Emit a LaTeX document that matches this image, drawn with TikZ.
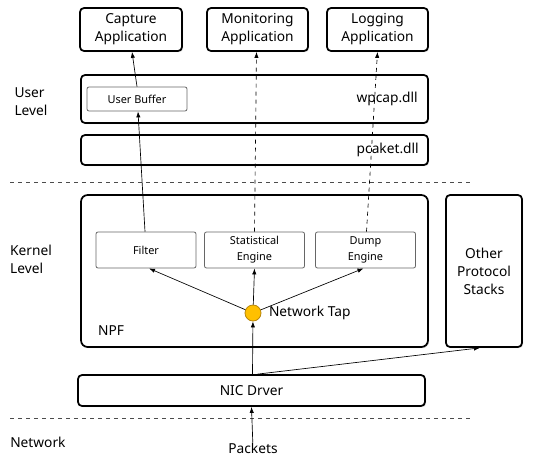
\documentclass[tikz,border=0pt]{standalone}
\usepackage{fontspec}
\setmainfont{Noto Sans}
\usetikzlibrary{positioning, calc, arrows.meta, shadows}

\definecolor{tapfill}{HTML}{FFC000}
\definecolor{tapline}{HTML}{B8860B}

\begin{document}
\begin{tikzpicture}[x=0.75pt, y=-0.75pt,
    bigbox/.style={draw, line width=1.3pt, rounded corners=3pt, fill=white,
        drop shadow={shadow xshift=0.9pt, shadow yshift=-0.9pt, opacity=0.25},
        font=\fontsize{10.3}{13.5}\selectfont, align=center, inner sep=0pt},
    smallbox/.style={draw=black!60, line width=0.6pt, rounded corners=1.5pt, fill=white,
        font=\fontsize{8.2}{12}\selectfont, align=center, inner sep=0pt,
        minimum width=75pt, minimum height=27pt},
    label/.style={font=\fontsize{10.3}{13.5}\selectfont, align=left, inner sep=0pt},
    link/.style={-{Latex[length=4.5pt, width=3.2pt]}, line width=0.5pt},
    sep/.style={dashed, line width=0.5pt, black!70}]
    \useasboundingbox (0,0) rectangle (544,457);

    % Applications
    \node[bigbox, minimum width=76.5pt, minimum height=32.25pt] (cap) at (131,29.5) {Capture\\Application};
    \node[bigbox, minimum width=75.75pt, minimum height=32.25pt] (mon) at (257.5,29.5) {Monitoring\\Application};
    \node[bigbox, minimum width=75.75pt, minimum height=32.25pt] (log) at (377.5,29.5) {Logging\\Application};

    % User level libraries
    \node[bigbox, minimum width=260.25pt, minimum height=36pt] (wpcap) at (254.5,99) {};
    \node[label, anchor=east] (wpcaptext) at (418,99) {wpcap.dll};
    \node[smallbox, minimum height=18pt] (ubuf) at (137,99) {User Buffer};
    \node[bigbox, minimum width=260.25pt, minimum height=22.5pt] (pcaket) at (254.5,150) {};
    \node[label, anchor=east] (pcakettext) at (419,150) {pcaket.dll};
    \node[label] (user) at (31,102) {User\\Level};

    \draw[sep] (10,182) -- (472,182);

    % Kernel level
    \node[bigbox, minimum width=260.25pt, minimum height=114pt, rounded corners=5pt] (npf) at (254.5,271) {};
    \node[label] (npftext) at (111,331) {NPF};
    \node[smallbox] (filter) at (146,250) {Filter};
    \node[smallbox] (stat) at (254.5,250) {Statistical\\Engine};
    \node[smallbox] (dump) at (365.5,250) {Dump\\Engine};
    \node[bigbox, minimum width=57pt, minimum height=114pt] (other) at (484,271) {Other\\Protocol\\Stacks};
    \node[circle, draw=tapline, fill=tapfill, line width=0.6pt, minimum size=12pt, inner sep=0pt] (tap) at (253,313) {};
    \node[label, right=5.5pt of tap] (taptext) {Network Tap};
    \node[label] (kernel) at (31,259) {Kernel\\Level};

    \node[bigbox, minimum width=260.25pt, minimum height=23.25pt] (nic) at (251.5,390.5) {NIC Drver};

    \draw[sep] (10,418) -- (472,418);

    % Network
    \node[label, anchor=west] (network) at (10,442) {Network};
    \node[label] (packets) at (253,448) {Packets};

    % Data paths
    \draw[link] (packets) -- (nic.south);
    \draw[link] ($(nic.north)+(1,0)$) -- (tap);
    \draw[link] ($(nic.north)+(6,0)$) -- ($(other.south)+(-4,0)$);
    \draw[link] (tap) -- ($(filter.south)+(3,0)$);
    \draw[link] (tap) -- (stat.south);
    \draw[link] (tap) -- ($(dump.south)+(-2,0)$);
    \draw[link] ($(filter.north)+(-1,0)$) -- ($(ubuf.south)+(1,0)$);
    \draw[link] (ubuf.north) -- ($(cap.south)+(1,0)$);
    \draw[link, dashed] (stat.north) -- ($(mon.south)+(-1,0)$);
    \draw[link, dashed] ($(dump.north)+(1,0)$) -- (log.south);
\end{tikzpicture}
\end{document}
